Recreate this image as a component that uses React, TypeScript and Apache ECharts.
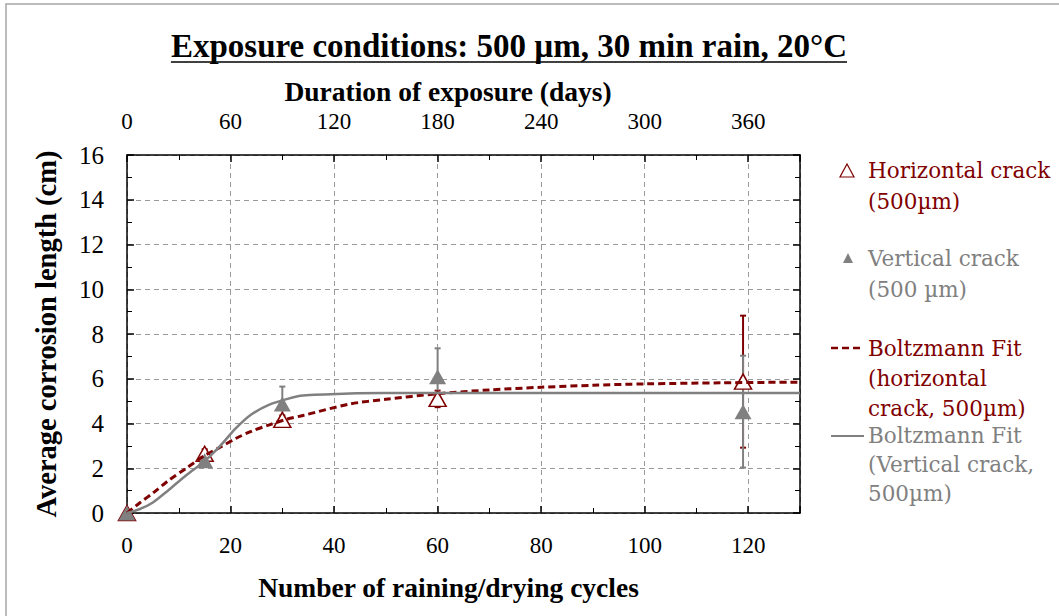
import React, { useEffect, useRef } from "react";
import * as echarts from "echarts";

// ---- data ----
const cycles = [0, 15, 30, 60, 119];
const horizontalCrack = [0, 2.65, 4.16, 5.1, 5.87];
const horizontalErr = [0, 0.2, 0.2, 0.37, 2.95];
const verticalCrack = [0, 2.34, 4.87, 6.09, 4.53];
const verticalErr = [0, 0.2, 0.78, 1.27, 2.5];

const fitCycles = [0, 2.5, 5, 8, 11.5, 15, 18, 21, 24, 27.5, 31, 34, 43, 50, 60, 70, 80, 90, 100, 115, 130];
const horizontalFit = [0, 0.46, 0.89, 1.45, 2.01, 2.57, 2.94, 3.33, 3.65, 3.94, 4.2, 4.36, 4.87, 5.08, 5.33, 5.5, 5.62, 5.71, 5.77, 5.82, 5.85];
const verticalFit = [0, 0.18, 0.47, 1.02, 1.7, 2.32, 3.0, 3.78, 4.4, 4.84, 5.1, 5.25, 5.34, 5.36, 5.36, 5.36, 5.36, 5.36, 5.36, 5.36, 5.36];

const titleText = "Exposure conditions: 500 µm, 30 min rain, 20°C";
const bottomName = "Number of raining/drying cycles";
const topName = "Duration of exposure (days)";
const leftName = "Average corrosion length (cm)";

const RED = "#7f0000";
const GREY = "#808080";
const SERIF = "'Liberation Serif', serif";
const LEG = "'DejaVu Serif', serif";

function measure(text: string, font: string): number {
  const c = document.createElement("canvas").getContext("2d");
  if (!c) return 0;
  c.font = font;
  return c.measureText(text).width;
}

export default function App() {
  const ref = useRef<HTMLDivElement>(null);
  useEffect(() => {
    if (!ref.current) return;
    const chart = echarts.init(ref.current, null, { renderer: "svg" });
    const titleFont = `bold 33px ${SERIF}`;
    const tw = measure(titleText, titleFont) || 674;
    const tcx = 509;

    const errData = (ys: number[], es: number[]) =>
      cycles
        .map((x, i) => [x, ys[i] - es[i], ys[i] + es[i]])
        .filter((d, i) => es[i] > 0);

    const errSeries = (ys: number[], es: number[], color: string) => ({
      type: "custom",
      xAxisIndex: 0,
      yAxisIndex: 0,
      data: errData(ys, es),
      z: 1,
      renderItem: (params: any, api: any) => {
        const x = api.value(0);
        const lo = api.coord([x, api.value(1)]);
        const hi = api.coord([x, api.value(2)]);
        const w = 3;
        const st = { stroke: color, lineWidth: 2 };
        return {
          type: "group",
          children: [
            { type: "line", shape: { x1: hi[0], y1: hi[1], x2: lo[0], y2: lo[1] }, style: st },
            { type: "line", shape: { x1: hi[0] - w, y1: hi[1], x2: hi[0] + w, y2: hi[1] }, style: st },
            { type: "line", shape: { x1: lo[0] - w, y1: lo[1], x2: lo[0] + w, y2: lo[1] }, style: st },
          ],
        };
      },
    });

    const axisLabelStyle = { fontFamily: SERIF, fontSize: 23, color: "#000" };
    const nameStyle = { fontFamily: SERIF, fontSize: 27.5, fontWeight: "bold", color: "#000" };
    const lineBlack = { color: "#000", width: 1.5 };

    chart.setOption({
      animation: false,
      backgroundColor: "#fff",
      grid: { left: 127, top: 155, right: 259, bottom: 103, containLabel: false },
      xAxis: [
        {
          type: "value",
          position: "bottom",
          min: 0,
          max: 130,
          interval: 20,
          axisLine: { show: true, onZero: false, lineStyle: lineBlack },
          axisTick: { show: true, inside: true, length: 7, lineStyle: lineBlack },
          minorTick: { show: true, splitNumber: 2, length: 5, lineStyle: { color: "#000", width: 1 } },
          splitLine: { show: true, lineStyle: { color: "#9a9a9a", type: [5, 4], width: 1 } },
          axisLabel: { ...axisLabelStyle, showMaxLabel: false, margin: 21 },
          name: bottomName,
          nameLocation: "middle",
          nameGap: 60,
          nameTextStyle: { ...nameStyle, padding: [0, 30, 0, 0] },
        },
        {
          type: "value",
          position: "top",
          min: 0,
          max: 390,
          interval: 60,
          axisLine: { show: true, onZero: false, lineStyle: lineBlack },
          axisTick: { show: true, inside: true, length: 7, lineStyle: lineBlack },
          minorTick: { show: true, splitNumber: 2, length: 5, lineStyle: { color: "#000", width: 1 } },
          splitLine: { show: false },
          axisLabel: { ...axisLabelStyle, showMaxLabel: false, margin: 22 },
          name: topName,
          nameLocation: "middle",
          nameGap: 50,
          nameTextStyle: { ...nameStyle, padding: [0, 31, 0, 0] },
        },
      ],
      yAxis: [
        {
          type: "value",
          position: "left",
          min: 0,
          max: 16,
          interval: 2,
          axisLine: { show: true, onZero: false, lineStyle: lineBlack },
          axisTick: { show: true, inside: true, length: 7, lineStyle: lineBlack },
          minorTick: { show: true, splitNumber: 2, length: 5, lineStyle: { color: "#000", width: 1 } },
          splitLine: { show: true, lineStyle: { color: "#9a9a9a", type: [5, 4], width: 1 } },
          axisLabel: { ...axisLabelStyle, fontSize: 25, margin: 23 },
          name: leftName,
          nameLocation: "middle",
          nameGap: 66,
          nameTextStyle: { ...nameStyle, fontSize: 28.5 },
        },
        {
          type: "value",
          position: "right",
          min: 0,
          max: 16,
          interval: 2,
          axisLine: { show: true, onZero: false, lineStyle: lineBlack },
          axisTick: { show: true, inside: true, length: 7, lineStyle: lineBlack },
          minorTick: { show: true, splitNumber: 2, length: 5, lineStyle: { color: "#000", width: 1 } },
          splitLine: { show: false },
          axisLabel: { show: false },
        },
      ],
      series: [
        errSeries(horizontalCrack, horizontalErr, RED),
        errSeries(verticalCrack, verticalErr, GREY),
        {
          name: "Horizontal crack (500µm)",
          type: "scatter",
          xAxisIndex: 0,
          yAxisIndex: 0,
          data: cycles.map((x, i) => [x, horizontalCrack[i]]),
          symbol: "triangle",
          symbolSize: [17, 15],
          itemStyle: { color: "#fff", borderColor: RED, borderWidth: 1.5, opacity: 1 },
          z: 3,
          clip: false,
        },
        {
          name: "Vertical crack (500 µm)",
          type: "scatter",
          xAxisIndex: 0,
          yAxisIndex: 0,
          data: cycles.map((x, i) => [x, verticalCrack[i]]),
          symbol: "triangle",
          symbolSize: [17, 15],
          itemStyle: { color: GREY, opacity: 1 },
          z: 4,
          clip: false,
        },
        {
          name: "Boltzmann Fit (horizontal crack, 500µm)",
          type: "line",
          xAxisIndex: 0,
          yAxisIndex: 0,
          data: fitCycles.map((x, i) => [x, horizontalFit[i]]),
          smooth: 0.3,
          showSymbol: false,
          symbol: "none",
          lineStyle: { color: RED, width: 3, type: [7, 4] },
          z: 5,
        },
        {
          name: "Boltzmann Fit (Vertical crack, 500µm)",
          type: "line",
          xAxisIndex: 0,
          yAxisIndex: 0,
          data: fitCycles.map((x, i) => [x, verticalFit[i]]),
          smooth: 0.3,
          showSymbol: false,
          symbol: "none",
          lineStyle: { color: GREY, width: 2.5 },
          z: 6,
        },
      ],
      graphic: [
        {
          type: "rect",
          shape: { x: 6, y: 4, width: 1200, height: 800 },
          style: { fill: "none", stroke: "#a6a6a6", lineWidth: 1.5 },
          silent: true,
        },
        {
          type: "text",
          x: tcx,
          y: 46,
          style: {
            text: titleText,
            font: titleFont,
            fill: "#000",
            align: "center",
            verticalAlign: "middle",
          },
        },
        {
          type: "line",
          shape: { x1: tcx - tw / 2, y1: 62, x2: tcx + tw / 2, y2: 62 },
          style: { stroke: "#000", lineWidth: 1.5 },
        },
        // legend
        {
          type: "polygon",
          shape: { points: [[840, 177], [854, 177], [847, 164]] },
          style: { fill: "#fff", stroke: RED, lineWidth: 1.2 },
        },
        {
          type: "text",
          x: 868,
          y: 155,
          style: { text: "Horizontal crack\n(500µm)", font: `21.5px ${LEG}`, fill: RED, lineHeight: 31, verticalAlign: "top" },
        },
        {
          type: "polygon",
          shape: { points: [[843, 263], [853, 263], [848, 253]] },
          style: { fill: GREY },
        },
        {
          type: "text",
          x: 868,
          y: 243,
          style: { text: "Vertical crack\n(500 µm)", font: `21.5px ${LEG}`, fill: GREY, lineHeight: 31, verticalAlign: "top" },
        },
        {
          type: "line",
          shape: { x1: 831, y1: 348, x2: 864, y2: 348 },
          style: { stroke: RED, lineWidth: 2.5, lineDash: [7, 4] },
        },
        {
          type: "text",
          x: 868,
          y: 333,
          style: { text: "Boltzmann Fit\n(horizontal\ncrack, 500µm)", font: `21.5px ${LEG}`, fill: RED, lineHeight: 30, verticalAlign: "top" },
        },
        {
          type: "line",
          shape: { x1: 831, y1: 436, x2: 864, y2: 436 },
          style: { stroke: GREY, lineWidth: 2 },
        },
        {
          type: "text",
          x: 868,
          y: 421,
          style: { text: "Boltzmann Fit\n(Vertical crack,\n500µm)", font: `21.5px ${LEG}`, fill: GREY, lineHeight: 29, verticalAlign: "top" },
        },
      ],
    });
    return () => chart.dispose();
  }, []);
  return (
    <div
      ref={ref}
      style={{ position: "fixed", left: 0, top: 0, width: 1059, height: 616, background: "#fff" }}
    />
  );
}
